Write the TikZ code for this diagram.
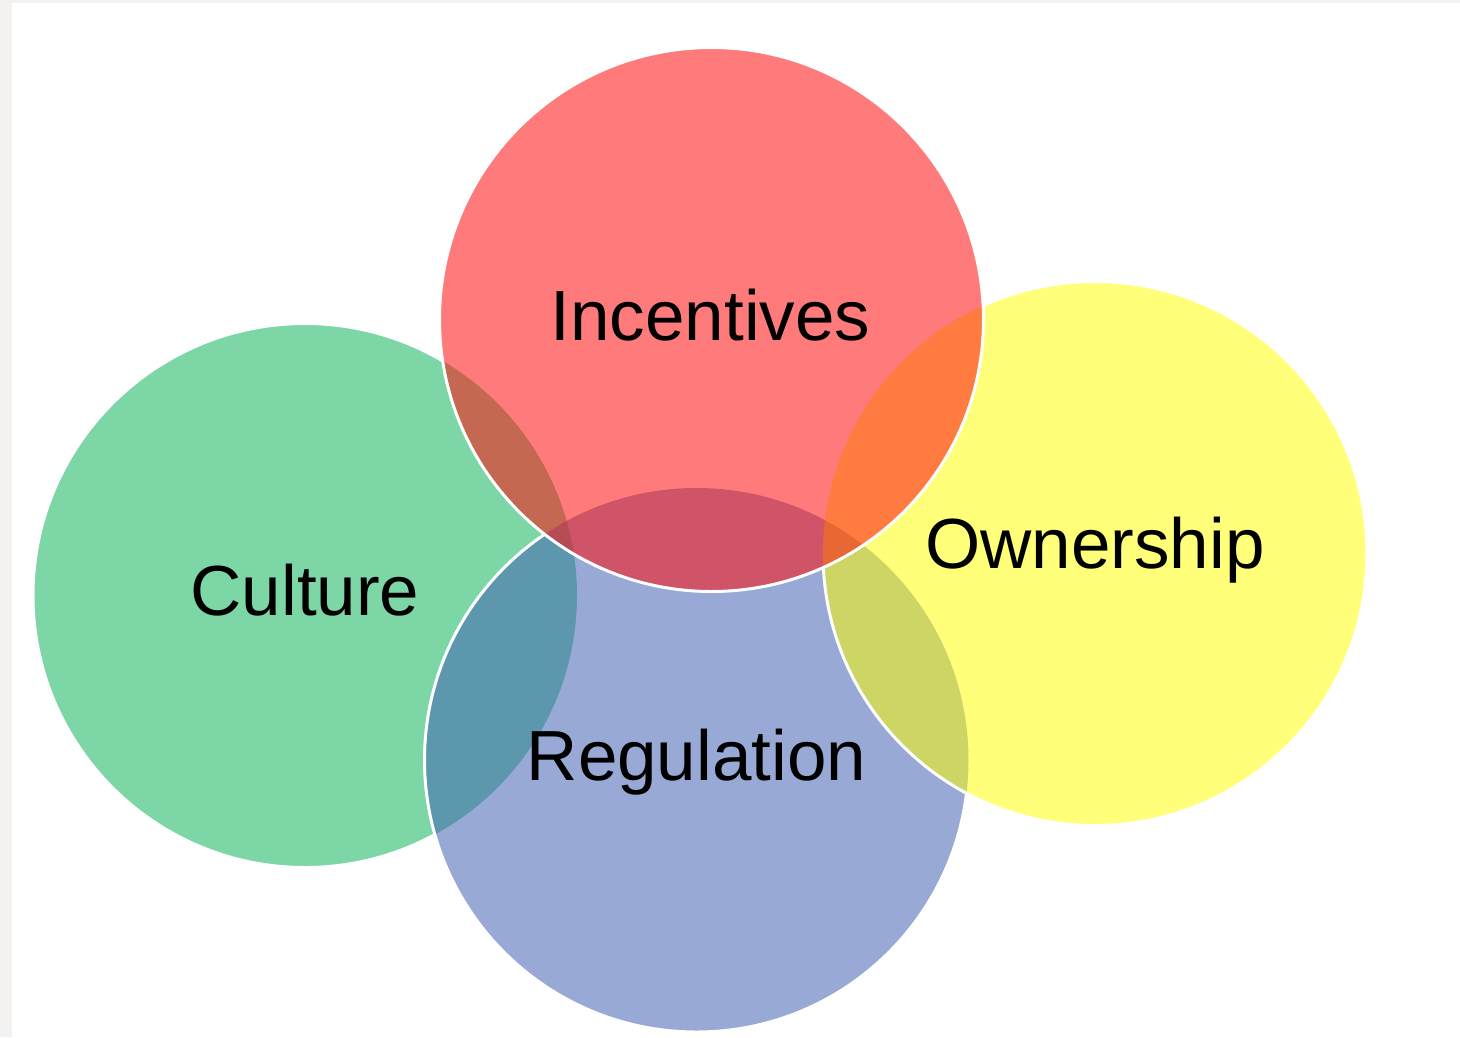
\documentclass[tikz,border=0pt]{standalone}
\usepackage{fontspec}
\setmainfont{Liberation Sans}
\definecolor{bggrey}{RGB}{243,242,240}
\definecolor{cgreen}{RGB}{125,214,165}
\definecolor{cblue}{RGB}{68,100,180}
\definecolor{cyel}{RGB}{255,255,0}
\definecolor{cred}{RGB}{255,15,15}
\def\Cc{(305,595.5) circle (272)}
\def\Rc{(696.5,760) circle (272)}
\def\Oc{(1095,553.5) circle (272)}
\def\Ic{(711.5,319.5) circle (272)}
\begin{document}
\begin{tikzpicture}[x=1pt,y=-1pt,
  lbl/.style={font=\fontsize{71}{80}\selectfont, text=black, anchor=base, inner sep=0pt},
  ring/.style={draw=white, line width=3pt},
  regfill/.style={fill=cblue, fill opacity=.55},
  ownfill/.style={fill=cyel, fill opacity=.52},
  incfill/.style={fill=cred, fill opacity=.55}]
\useasboundingbox (0,0) rectangle (1460,1037);
\fill[bggrey] (0,0) rectangle (1460,1037);
\fill[white] (12,3) rectangle (1460,1037);
% Culture (bottom layer)
\fill[cgreen] \Cc;
\draw[ring] \Cc;
% Regulation
\begin{scope}
  \clip \Rc;
  \fill[white] \Rc;
  \fill[cgreen] \Cc;
\end{scope}
\path[regfill] \Rc;
\draw[ring] \Rc;
% Ownership
\begin{scope}
  \clip \Oc;
  \fill[white] \Oc;
  \fill[cgreen] \Cc;
  \path[regfill] \Rc;
\end{scope}
\path[ownfill] \Oc;
\draw[ring] \Oc;
% Incentives (top layer)
\begin{scope}
  \clip \Ic;
  \fill[white] \Ic;
  \fill[cgreen] \Cc;
  \path[regfill] \Rc;
  \path[ownfill] \Oc;
\end{scope}
\path[incfill] \Ic;
\draw[ring] \Ic;
% Labels
\node[lbl] (inc) at (710.5,340) {Incentives};
\node[lbl] (cul) at (305,615) {Culture};
\node[lbl] (own) at (1095,568) {Ownership};
\node[lbl] (reg) at (696.5,780) {Regulation};
\end{tikzpicture}
\end{document}
